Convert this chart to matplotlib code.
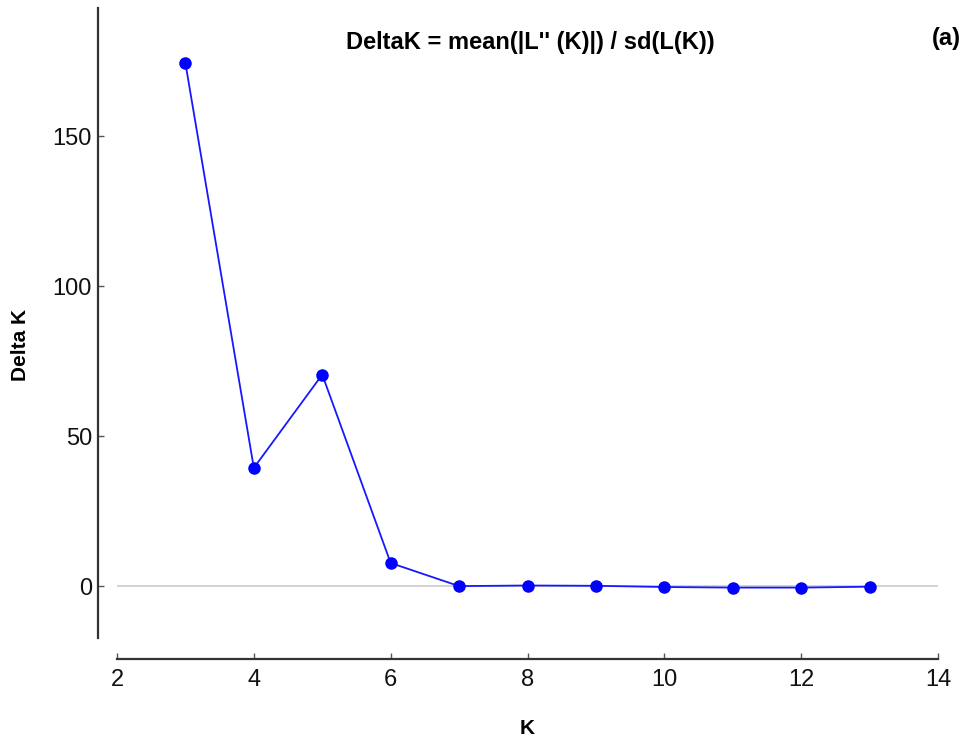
import numpy as np
import matplotlib.pyplot as plt

plt.rcParams['font.family'] = ['Liberation Sans', 'DejaVu Sans']

# Werte
k_werte = [3, 4, 5, 6, 7, 8, 9, 10, 11, 12, 13]
delta_k = [174.3, 39.4, 70.5, 7.7, 0.0, 0.2, 0.1, -0.3, -0.5, -0.5, -0.2]
x_ticks = [2, 4, 6, 8, 10, 12, 14]
y_ticks = [0, 50, 100, 150]

fig = plt.figure(figsize=(9.73, 7.42), dpi=100)
ax = fig.add_axes([117 / 973, (742 - 638) / 742, (938 - 117) / 973, (638 - 8) / 742])

# Nulllinie
ax.axhline(0, color='#c8c8c8', lw=1.1, zorder=1)
# Delta K Kurve
ax.plot(k_werte, delta_k, color='#1818ff', lw=1.3, marker='o', ms=8,
        mfc='#0000ff', mec='#0000ff', zorder=3)

ax.set_xlim(2, 14)
ax.set_ylim(-17.3, 192.7)
ax.set_xticks(x_ticks)
ax.set_yticks(y_ticks)

# Achsen wie im Original abgesetzt
for s in ['top', 'right']:
    ax.spines[s].set_visible(False)
ax.spines['left'].set_position(('outward', 14))
ax.spines['bottom'].set_position(('outward', 15))
ax.spines['left'].set_linewidth(1.6)
ax.spines['bottom'].set_linewidth(1.6)
ax.spines['left'].set_color('#333333')
ax.spines['bottom'].set_color('#333333')
ax.tick_params(direction='in', length=4, width=1, colors='#555555',
               labelcolor='#111111', labelsize=17)
ax.tick_params(axis='x', pad=7)
ax.tick_params(axis='y', pad=4)

# Achsentitel
fig.text(527 / 973, 1 - 729 / 742, 'K', ha='center', va='center',
         fontsize=15, fontweight='bold')
fig.text(20 / 973, 1 - 345 / 742, 'Delta K', ha='center', va='center',
         rotation=90, fontsize=15, fontweight='bold')

fig.text(530 / 973, 1 - 43 / 742, "DeltaK = mean(|L'' (K)|) / sd(L(K))",
         ha='center', va='center', fontsize=17, fontweight='bold')
fig.text(946 / 973, 1 - 38 / 742, '(a)', ha='center', va='center',
         fontsize=17, fontweight='bold')

fig.savefig('out.png', dpi=100)
